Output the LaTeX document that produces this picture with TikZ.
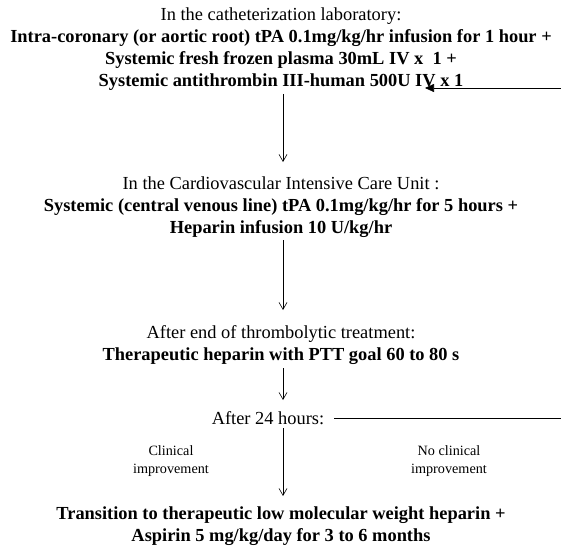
\documentclass[tikz,border=0pt]{standalone}
\usepackage{fontspec}
\setmainfont{Liberation Serif}
\usetikzlibrary{arrows.meta}
\begin{document}
\begin{tikzpicture}[x=1pt,y=-1pt,
  blk/.style={align=center,inner sep=0pt,font=\fontsize{18.4}{22}\selectfont},
  lbl/.style={align=center,inner sep=0pt,font=\fontsize{14.2}{18}\selectfont},
  dn/.style={draw,line width=0.6pt,-{Straight Barb[length=7pt,width=8pt]}},
  fb/.style={draw,line width=0.6pt,-{Triangle[length=9pt,width=8pt]}},
  ln/.style={draw,line width=0.6pt}]
\useasboundingbox (0,0) rectangle (561,548);
\node[blk] (b1) at (281,49) {In the catheterization laboratory:\\
\textbf{Intra-coronary (or aortic root) tPA 0.1mg/kg/hr infusion for 1 hour +}\\
\textbf{Systemic fresh frozen plasma 30mL IV x\ \ 1 +}\\
\textbf{Systemic antithrombin III-human 500U IV x 1}};
\node[blk] (b2) at (281,207) {In the Cardiovascular Intensive Care Unit :\\
\textbf{Systemic (central venous line) tPA 0.1mg/kg/hr for 5 hours +}\\
\textbf{Heparin infusion 10 U/kg/hr}};
\node[blk] (b3) at (281,345) {After end of thrombolytic treatment:\\
\textbf{Therapeutic heparin with PTT goal 60 to 80 s}};
\node[blk] (b4) at (268,418) {After 24 hours:};
\node[blk] (b5) at (281,526) {\textbf{Transition to therapeutic low molecular weight heparin +}\\
\textbf{Aspirin 5 mg/kg/day for 3 to 6 months}};
\node[lbl] (cl) at (171,461) {Clinical\\improvement};
\node[lbl] (ncl) at (449,461) {No clinical\\improvement};
\coordinate (fbR1) at (561,88);
\coordinate (fbtip) at (425,88);
\coordinate (fbR2) at (561,418);
\draw[dn] (283,94) -- (283,162);
\draw[dn] (283,240) -- (283,310);
\draw[dn] (283,368) -- (283,400);
\draw[dn] (283,428) -- (283,496);
\draw[ln] ([xshift=10pt]b4.east) -- (b4.east -| fbR2);
\draw[fb] (fbR1) -- (fbtip);
\end{tikzpicture}
\end{document}
